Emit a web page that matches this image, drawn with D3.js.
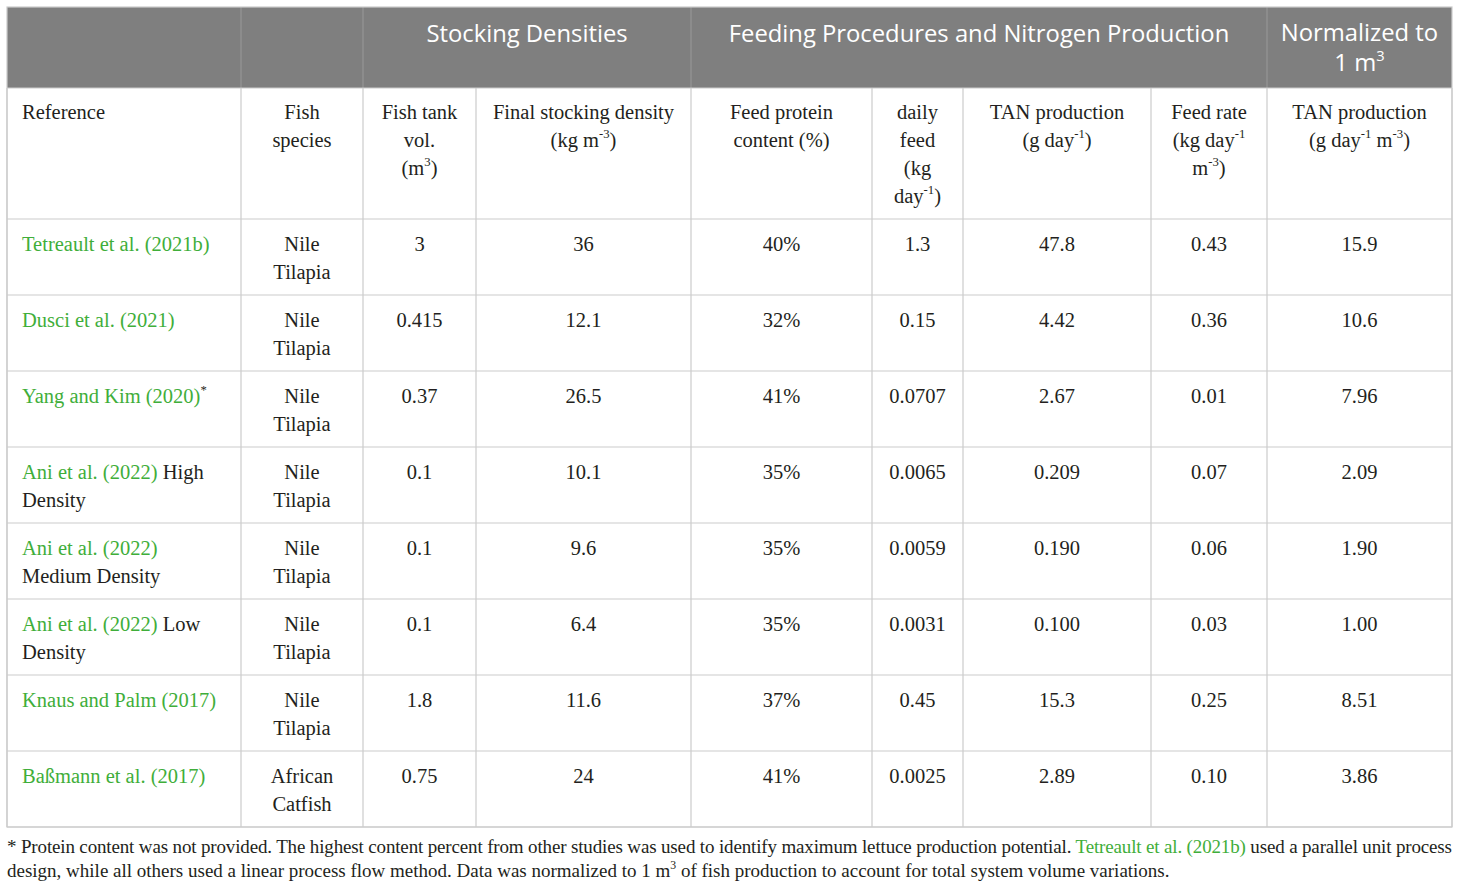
<!DOCTYPE html>
<html>
<head>
<meta charset="utf-8">
<script src="https://cdn.jsdelivr.net/npm/d3@7"></script>
<style>
  html, body { margin: 0; padding: 0; background: #fff; }
  svg { display: block; }
</style>
</head>
<body>
<svg id="table"></svg>
<script>
const width = 1460;
const height = 889;

// header texts ("^{..}" marks a superscript)
const groupHeaders = [
    {lines: [""], from: 0, to: 1},
    {lines: [""], from: 1, to: 2},
    {lines: ["Stocking Densities"], from: 2, to: 4},
    {lines: ["Feeding Procedures and Nitrogen Production"], from: 4, to: 8},
    {lines: ["Normalized to", "1 m^{3}"], from: 8, to: 9}
];
const columnHeaders = [
    ["Reference"],
    ["Fish", "species"],
    ["Fish tank", "vol.", "(m^{3})"],
    ["Final stocking density", "(kg m^{-3})"],
    ["Feed protein", "content (%)"],
    ["daily", "feed", "(kg", "day^{-1})"],
    ["TAN production", "(g day^{-1})"],
    ["Feed rate", "(kg day^{-1}", "m^{-3})"],
    ["TAN production", "(g day^{-1} m^{-3})"]
];

// reference column: lines of [text, isLink]
const references = [
    [[["Tetreault et al. (2021b)", true]]],
    [[["Dusci et al. (2021)", true]]],
    [[["Yang and Kim (2020)", true], ["^{*}", false]]],
    [[["Ani et al. (2022)", true], [" High", false]], [["Density", false]]],
    [[["Ani et al. (2022)", true]], [["Medium Density", false]]],
    [[["Ani et al. (2022)", true], [" Low", false]], [["Density", false]]],
    [[["Knaus and Palm (2017)", true]]],
    [[["Baßmann et al. (2017)", true]]]
];
const species = [
    ["Nile", "Tilapia"], ["Nile", "Tilapia"], ["Nile", "Tilapia"], ["Nile", "Tilapia"],
    ["Nile", "Tilapia"], ["Nile", "Tilapia"], ["Nile", "Tilapia"], ["African", "Catfish"]
];
const tankVolume = ["3", "0.415", "0.37", "0.1", "0.1", "0.1", "1.8", "0.75"];
const stockingDensity = ["36", "12.1", "26.5", "10.1", "9.6", "6.4", "11.6", "24"];
const proteinContent = ["40%", "32%", "41%", "35%", "35%", "35%", "37%", "41%"];
const dailyFeed = ["1.3", "0.15", "0.0707", "0.0065", "0.0059", "0.0031", "0.45", "0.0025"];
const tanProduction = ["47.8", "4.42", "2.67", "0.209", "0.190", "0.100", "15.3", "2.89"];
const feedRate = ["0.43", "0.36", "0.01", "0.07", "0.06", "0.03", "0.25", "0.10"];
const tanNormalized = ["15.9", "10.6", "7.96", "2.09", "1.90", "1.00", "8.51", "3.86"];

const footnote1 = [
    ["* Protein content was not provided. The highest content percent from other studies was used to identify maximum lettuce production potential. ", false],
    ["Tetreault et al. (2021b)", true],
    [" used a parallel unit process", false]
];
const footnote2 = [["design, while all others used a linear process flow method. Data was normalized to 1 m^{3} of fish production to account for total system volume variations.", false]];

// layout
const colWidths = [234, 122, 113, 215, 181, 91, 188, 116, 185];
const tableLeft = 7, tableTop = 7;
const groupH = 81, headH = 131, rowH = 76;
const serif = "'Liberation Serif', 'Times New Roman', serif";
const sans = "'Open Sans', 'Noto Sans', sans-serif";
const linkColor = "#3fae3a";
const textColor = "#231f20";
const gridColor = "#cbcbcb";
const lineGap = 28;
const cellSize = 20.5;
const noteSize = 19;

const edges = [0, ...d3.cumsum(colWidths)];
const tableW = d3.sum(colWidths);
const x = d3.scaleLinear().domain([0, tableW]).range([tableLeft, tableLeft + tableW]);
const colX = i => x(edges[i]);
const bodyTop = tableTop + groupH + headH;
const y = d3.scaleBand().domain(d3.range(references.length)).range([bodyTop, bodyTop + rowH * references.length]);
const bodyBottom = y.range()[1];

const svg = d3.select("#table").attr("width", width).attr("height", height);

// write text with ^{...} superscripts into a text element
const addRich = (textSel, str, color, size) => {
    const parts = str.split(/(\^\{[^}]*\})/).filter(s => s.length);
    let raised = false;
    parts.forEach(p => {
        const sup = p.startsWith("^{");
        const t = textSel.append("tspan").attr("fill", color).text(sup ? p.slice(2, -1) : p);
        if (sup) {
            t.attr("font-size", size * 0.62).attr("dy", -size * 0.42);
            raised = true;
        } else if (raised) {
            t.attr("dy", size * 0.42);
            raised = false;
        }
    });
};

const cellLines = (g, lines, cx, y0, anchor, font, size, color) => {
    lines.forEach((ln, i) => {
        const t = g.append("text")
            .attr("x", cx)
            .attr("y", y0 + i * lineGap)
            .attr("text-anchor", anchor)
            .attr("font-family", font)
            .attr("font-size", size);
        if (typeof ln === "string") addRich(t, ln, color, size);
        else ln.forEach(([s, link]) => addRich(t, s, link ? linkColor : textColor, size));
    });
};

// group header band
const gh = svg.append("g");
gh.append("rect")
    .attr("x", tableLeft).attr("y", tableTop)
    .attr("width", tableW).attr("height", groupH)
    .attr("fill", "#7f7f7f");
gh.selectAll("line.sep")
    .data(groupHeaders.slice(1))
    .join("line")
    .attr("x1", d => colX(d.from)).attr("x2", d => colX(d.from))
    .attr("y1", tableTop).attr("y2", tableTop + groupH)
    .attr("stroke", "#9a9a9a").attr("stroke-width", 1);
groupHeaders.forEach(d => {
    const cx = (colX(d.from) + colX(d.to)) / 2;
    const y0 = d.lines.length > 1 ? tableTop + 34 : tableTop + 35;
    d.lines.forEach((ln, i) => {
        const t = gh.append("text")
            .attr("x", cx).attr("y", y0 + i * 30)
            .attr("text-anchor", "middle")
            .attr("font-family", sans)
            .attr("font-size", 23.8);
        addRich(t, ln, "#fff", 23.8);
    });
});

// column headers
const ch = svg.append("g");
columnHeaders.forEach((lines, i) => {
    const anchor = i === 0 ? "start" : "middle";
    const cx = i === 0 ? colX(0) + 15 : (colX(i) + colX(i + 1)) / 2;
    cellLines(ch, lines, cx, tableTop + groupH + 31, anchor, serif, cellSize, textColor);
});

// body cells
const body = svg.append("g");
const valueCols = [species, tankVolume, stockingDensity, proteinContent, dailyFeed, tanProduction, feedRate, tanNormalized];
references.forEach((lines, r) => {
    const y0 = y(r) + 32;
    cellLines(body, lines, colX(0) + 15, y0, "start", serif, cellSize, textColor);
    valueCols.forEach((col, c) => {
        const v = col[r];
        const cx = (colX(c + 1) + colX(c + 2)) / 2;
        cellLines(body, Array.isArray(v) ? v : [v], cx, y0, "middle", serif, cellSize, textColor);
    });
});

// grid
const grid = svg.append("g").attr("stroke", gridColor).attr("stroke-width", 1.2);
const hLines = [tableTop + groupH, ...y.domain().map(d => y(d)), bodyBottom];
grid.selectAll("line.h")
    .data(hLines)
    .join("line")
    .attr("x1", tableLeft).attr("x2", tableLeft + tableW)
    .attr("y1", d => d).attr("y2", d => d);
grid.selectAll("line.v")
    .data(edges)
    .join("line")
    .attr("x1", d => x(d)).attr("x2", d => x(d))
    .attr("y1", tableTop + groupH).attr("y2", bodyBottom);
grid.append("rect")
    .attr("x", tableLeft).attr("y", tableTop)
    .attr("width", tableW).attr("height", bodyBottom - tableTop)
    .attr("fill", "none");

// footnote
const fn = svg.append("g");
const f1 = fn.append("text")
    .attr("x", tableLeft).attr("y", bodyBottom + 26)
    .attr("font-family", serif).attr("font-size", noteSize)
    .attr("textLength", tableW).attr("lengthAdjust", "spacing");
footnote1.forEach(([s, link]) => addRich(f1, s, link ? linkColor : textColor, noteSize));
const f2 = fn.append("text")
    .attr("x", tableLeft).attr("y", bodyBottom + 50)
    .attr("font-family", serif).attr("font-size", noteSize);
footnote2.forEach(([s, link]) => addRich(f2, s, link ? linkColor : textColor, noteSize));
</script>
</body>
</html>
